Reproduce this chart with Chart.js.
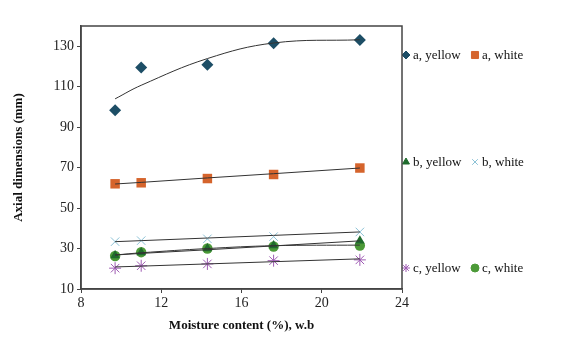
<!DOCTYPE html>
<html>
<head>
<meta charset="utf-8">
<script src="https://cdn.jsdelivr.net/npm/chart.js@4.4.0/dist/chart.umd.min.js"></script>
<style>
  html, body { margin: 0; padding: 0; background: #fff; }
  #wrap { width: 570px; height: 360px; }
</style>
</head>
<body>
<div id="wrap"><canvas id="chart" width="570" height="360"></canvas></div>
<script>
// moisture content (% w.b) for every series
const moisture = [9.7, 11.0, 14.3, 17.6, 21.9];

// measured axial dimensions (mm)
const aYellow = [98.3, 119.5, 120.8, 131.5, 133.1];
const aWhite = [62.0, 62.5, 64.6, 66.6, 69.8];
const bYellow = [26.5, 28.0, 30.0, 31.5, 33.8];
const bWhite = [33.4, 33.9, 34.8, 35.9, 38.2];
const cYellow = [20.3, 21.5, 22.4, 24.0, 24.4];
const cWhite = [26.3, 28.2, 30.0, 31.0, 31.5];

// trendline values at the same moisture points
const aYellowTrend = [104.0, 110.7, 123.9, 131.6, 133.2];
const aWhiteTrend = [61.9, 62.7, 64.9, 67.0, 69.8];
const bYellowTrend = [26.8, 27.6, 29.4, 31.3, 33.8];
const bWhiteTrend = [33.4, 33.9, 35.2, 36.5, 38.2];
const cYellowTrend = [20.9, 21.3, 22.4, 23.5, 24.9];
const cWhiteTrend = [26.8, 27.9, 30.0, 31.4, 31.7];

const xTicks = [8, 12, 16, 20, 24];
const yTicks = [10, 30, 50, 70, 90, 110, 130];

const pts = (ys) => ys.map((y, i) => ({ x: moisture[i], y: y }));

const series = [
  { label: 'a, yellow', data: aYellow, trend: aYellowTrend, color: '#1d4e66', style: 'rectRot', r: 6 },
  { label: 'a, white', data: aWhite, trend: aWhiteTrend, color: '#d5642c', style: 'rect', r: 6.7 },
  { label: 'b, yellow', data: bYellow, trend: bYellowTrend, color: '#1f6b2d', style: 'triangle', r: 5.5 },
  { label: 'b, white', data: bWhite, trend: bWhiteTrend, color: '#8cc2d6', style: 'crossRot', r: 6 },
  { label: 'c, yellow', data: cYellow, trend: cYellowTrend, color: '#9e5bb3', style: 'star', r: 6 },
  { label: 'c, white', data: cWhite, trend: cWhiteTrend, color: '#4c9a38', style: 'circle', r: 5.2 }
];

const datasets = [];
series.forEach(s => {
  datasets.push({
    label: s.label + ' trend',
    data: pts(s.trend),
    showLine: true,
    borderColor: '#333',
    borderWidth: 1,
    pointRadius: 0,
    tension: s.label === 'a, yellow' || s.label === 'c, white' ? 0.4 : 0,
    order: 0
  });
  datasets.push({
    label: s.label,
    data: pts(s.data),
    pointStyle: s.style,
    pointRadius: s.r,
    backgroundColor: s.color,
    borderColor: s.color,
    borderWidth: s.style === 'crossRot' || s.style === 'star' ? 1 : 0,
    order: 1
  });
});

// legend laid out in three rows of two on the right side
const legendRows = [55, 162, 268];
const legendCols = [406, 475];
const sideLegend = {
  id: 'sideLegend',
  afterDraw(chart) {
    const ctx = chart.ctx;
    ctx.save();
    series.forEach((s, i) => {
      const x = legendCols[i % 2];
      const y = legendRows[Math.floor(i / 2)];
      ctx.fillStyle = s.color;
      ctx.strokeStyle = s.color;
      ctx.lineWidth = 1;
      Chart.helpers.drawPoint(ctx, {
        pointStyle: s.style, radius: s.style === 'rect' ? 5 : 4, rotation: 0, borderWidth: 1
      }, x, y);
      ctx.fillStyle = '#111';
      ctx.font = '13px "Liberation Serif"';
      ctx.textBaseline = 'middle';
      ctx.fillText(s.label, x + 7, y + 1);
    });
    // plot frame
    const a = chart.chartArea;
    ctx.strokeStyle = '#444';
    ctx.lineWidth = 1.5;
    ctx.strokeRect(a.left, a.top, a.right - a.left, a.bottom - a.top);
    ctx.restore();
  }
};

new Chart(document.getElementById('chart'), {
  type: 'scatter',
  data: { datasets: datasets },
  options: {
    responsive: false,
    animation: false,
    layout: { padding: { top: 26, right: 168, left: 7, bottom: 23 } },
    plugins: { legend: { display: false }, tooltip: { enabled: false } },
    scales: {
      x: {
        min: 8, max: 24,
        afterBuildTicks: (s) => { s.ticks = xTicks.map(v => ({ value: v })); },
        afterFit: (s) => { s.height = 48; },
        grid: { drawOnChartArea: false, tickLength: 4, color: '#444' },
        border: { color: '#444', width: 1.5 },
        ticks: { color: '#222', font: { family: 'Liberation Serif', size: 14 }, padding: 2 },
        title: {
          display: true, text: 'Moisture content (%), w.b', color: '#111',
          font: { family: 'Liberation Serif', size: 13, weight: 'bold' }, padding: { top: 6 }
        }
      },
      y: {
        min: 10, max: 140,
        afterBuildTicks: (s) => { s.ticks = yTicks.map(v => ({ value: v })); },
        afterFit: (s) => { s.width = 74; },
        grid: { drawOnChartArea: false, tickLength: 4, color: '#444' },
        border: { color: '#444', width: 1.5 },
        ticks: { color: '#222', font: { family: 'Liberation Serif', size: 14 }, padding: 3 },
        title: {
          display: true, text: 'Axial dimensions (mm)', color: '#111',
          font: { family: 'Liberation Serif', size: 13, weight: 'bold' }, padding: { bottom: 6 }
        }
      }
    }
  },
  plugins: [sideLegend]
});
</script>
</body>
</html>
